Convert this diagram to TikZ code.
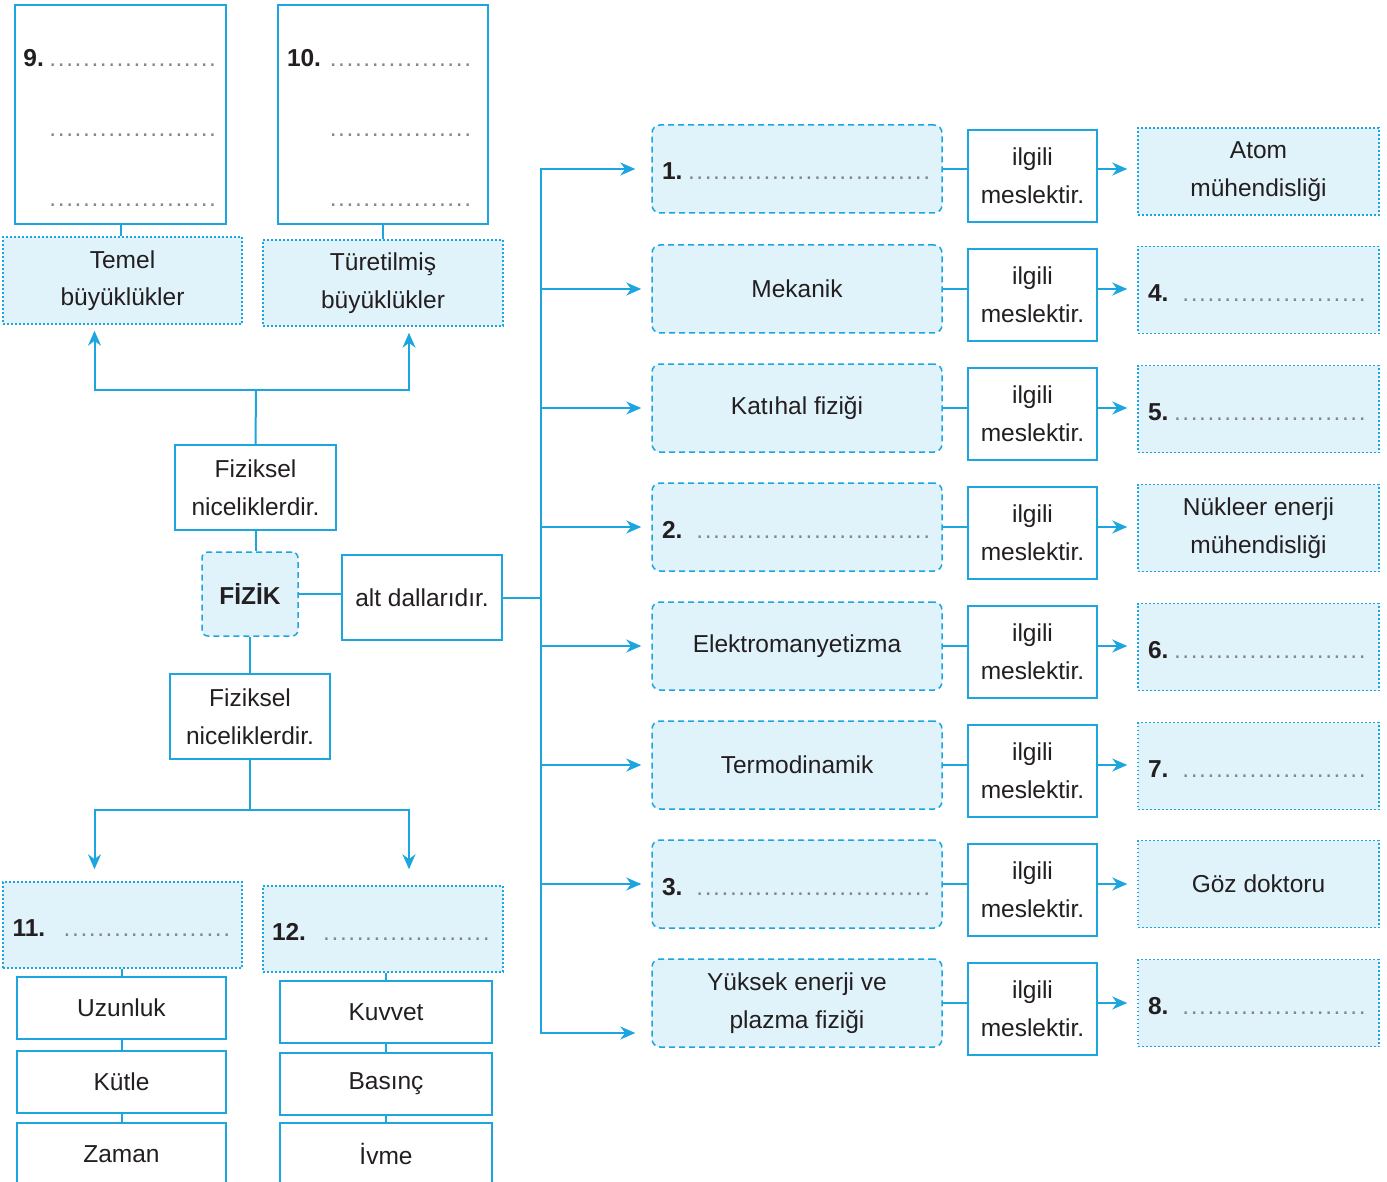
\documentclass[tikz,border=0pt]{standalone}
\usepackage{fontspec}
\setmainfont{Liberation Sans}
\usepackage{tikz}
\usetikzlibrary{arrows.meta}

\definecolor{cyanline}{RGB}{29,165,224}
\definecolor{paleblue}{RGB}{224,242,250}
\definecolor{ink}{RGB}{35,31,32}
\definecolor{dotgray}{RGB}{135,135,135}
\newcommand{\dotsline}{{\color{dotgray}\leaders\hbox to 4.2pt{\hss.\hss}\hskip 0pt plus 1filll}\kern0pt}

\begin{document}
\begin{tikzpicture}[x=0.5pt, y=-0.5pt, every node/.style={font=\fontsize{12.25}{18.8}\selectfont, text=ink, align=center, inner sep=0pt}, plainbox/.style={draw=cyanline,fill=white,line width=0.75pt}, branchbox/.style={draw=cyanline,fill=paleblue,line width=0.75pt,dash pattern=on 3pt off 2pt,rounded corners=4pt,minimum width=145pt,minimum height=44pt}, jobbox/.style={plainbox,minimum width=64.5pt,minimum height=46pt}, resbox/.style={draw=cyanline,fill=paleblue,line width=0.75pt,dash pattern=on 0.8pt off 1.2pt,minimum width=120.5pt,minimum height=43.5pt}, blankbox/.style={align=left,text width=#1,inner xsep=5pt,text height=11pt,text depth=0pt}, notebox/.style={plainbox,minimum height=109.5pt,align=left,font=\fontsize{12.25}{35}\selectfont,text height=10pt,text depth=58pt}, conn/.style={draw=cyanline,line width=1pt}, arr/.style={conn,-{Stealth[length=7.5pt,width=6.5pt]}}]
\useasboundingbox (0,0) rectangle (1387,1182);

% left column, upper half
\node[notebox,minimum width=105.5pt,text width=97pt] (box9) at (120.5,114.5) {\textbf{9.}\dotsline\\\phantom{\textbf{9.}}\dotsline\\\phantom{\textbf{9.}}\dotsline};
\node[notebox,minimum width=105pt,text width=96pt] (box10) at (383,114.5) {\textbf{10.}\dotsline\\\phantom{\textbf{10.}}\dotsline\\\phantom{\textbf{10.}}\dotsline};
\node[resbox,minimum width=119.5pt] (temel) at (122.5,280.5) {Temel\\büyüklükler};
\node[resbox,minimum width=120pt,minimum height=43pt] (turet) at (383,283) {Türetilmiş\\büyüklükler};
\node[plainbox,minimum width=80.5pt,minimum height=42.5pt] (fiz1) at (255.5,487.5) {Fiziksel\\niceliklerdir.};
\node[branchbox,minimum width=48pt,minimum height=42pt,rounded corners=3pt] (fizik) at (250,594) {\textbf{FİZİK}};
\node[plainbox,minimum width=80pt,minimum height=42.5pt] (alt) at (422,597.5) {alt dallarıdır.};

% left column, lower half
\node[plainbox,minimum width=80pt,minimum height=42.5pt] (fiz2) at (250,716.5) {Fiziksel\\niceliklerdir.};
\node[resbox,minimum width=119.5pt,minimum height=43pt,blankbox=110pt,inner xsep=4.5pt] (b11) at (122.5,925) {\textbf{11.}\hspace{6pt}\dotsline};
\node[resbox,minimum width=120pt,minimum height=43pt,blankbox=111pt,inner xsep=4.5pt] (b12) at (383,929) {\textbf{12.}\hspace{6pt}\dotsline};
\node[plainbox,minimum width=104.5pt,minimum height=31pt] (uz) at (121.5,1008) {Uzunluk};
\node[plainbox,minimum width=104.5pt,minimum height=31pt] (kut) at (121.5,1082) {Kütle};
\node[plainbox,minimum width=104.5pt,minimum height=31pt] (zam) at (121.5,1154) {Zaman};
\node[plainbox,minimum width=106pt,minimum height=31pt] (kuv) at (386,1012) {Kuvvet};
\node[plainbox,minimum width=106pt,minimum height=31pt] (bas) at (386,1084) {Basınç};
\node[plainbox,minimum width=106pt,minimum height=31pt] (ivm) at (386,1154) {İvme};

% branches
\node[branchbox,blankbox=135pt] (b1) at (797,169) {\textbf{1.}\hspace{1pt}\dotsline};
\node[branchbox] (b2) at (797,289) {Mekanik};
\node[branchbox] (b3) at (797,408) {Katıhal fiziği};
\node[branchbox,blankbox=135pt] (b4) at (797,527) {\textbf{2.}\hspace{4pt}\dotsline};
\node[branchbox] (b5) at (797,646) {Elektromanyetizma};
\node[branchbox] (b6) at (797,765) {Termodinamik};
\node[branchbox,blankbox=135pt] (b7) at (797,884) {\textbf{3.}\hspace{4pt}\dotsline};
\node[branchbox] (b8) at (797,1003) {Yüksek enerji ve\\plazma fiziği};

\node[jobbox] (j1) at (1032.5,176) {ilgili\\meslektir.};
\node[jobbox] (j2) at (1032.5,295) {ilgili\\meslektir.};
\node[jobbox] (j3) at (1032.5,414) {ilgili\\meslektir.};
\node[jobbox] (j4) at (1032.5,533) {ilgili\\meslektir.};
\node[jobbox] (j5) at (1032.5,652) {ilgili\\meslektir.};
\node[jobbox] (j6) at (1032.5,771) {ilgili\\meslektir.};
\node[jobbox] (j7) at (1032.5,890) {ilgili\\meslektir.};
\node[jobbox] (j8) at (1032.5,1009) {ilgili\\meslektir.};

\node[resbox] (r1) at (1258.5,171.5) {Atom\\mühendisliği};
\node[resbox,blankbox=110.5pt] (r2) at (1258.5,290) {\textbf{4.}\hspace{6pt}\dotsline};
\node[resbox,blankbox=110.5pt] (r3) at (1258.5,409) {\textbf{5.}\hspace{1pt}\dotsline};
\node[resbox] (r4) at (1258.5,528) {Nükleer enerji\\mühendisliği};
\node[resbox,blankbox=110.5pt] (r5) at (1258.5,647) {\textbf{6.}\hspace{1pt}\dotsline};
\node[resbox,blankbox=110.5pt] (r6) at (1258.5,766) {\textbf{7.}\hspace{6pt}\dotsline};
\node[resbox] (r7) at (1258.5,884) {Göz doktoru};
\node[resbox,blankbox=110.5pt] (r8) at (1258.5,1003) {\textbf{8.}\hspace{6pt}\dotsline};

% connectors, left
\coordinate (upfork) at (256,390);
\coordinate (downfork) at (250,810);
\draw[conn] (box9.south) -- (box9.south |- temel.north); \draw[conn] (box10.south) -- (box10.south |- turet.north);
\draw[conn] (fiz1.north) -- (upfork); \draw[arr,shorten >=3pt] (upfork) -| ([xshift=-14pt]temel.south); \draw[arr,shorten >=3pt] (upfork) -| ([xshift=13pt]turet.south);
\draw[conn] (fiz1.south) -- (fiz1.south |- fizik.north); \draw[conn] (fizik.east) -- (fizik.east -| alt.west);
\draw[conn] (fizik.south) -- (fiz2.north); \draw[conn] (fiz2.south) -- (downfork);
\draw[arr,shorten >=6pt] (downfork) -| ([xshift=-14pt]b11.north); \draw[arr,shorten >=8pt] (downfork) -| ([xshift=13pt]b12.north);
\draw[conn] (uz.north |- b11.south) -- (uz.north); \draw[conn] (uz) -- (kut); \draw[conn] (kut) -- (zam);
\draw[conn] (kuv.north |- b12.south) -- (kuv.north); \draw[conn] (kuv) -- (bas); \draw[conn] (bas) -- (ivm);

% connectors, right
\coordinate (trunk) at (541,594);
\draw[conn] (alt.east) -- (alt.east -| trunk);
\draw[arr,shorten >=8pt] (trunk) |- (b1.west); \draw[arr,shorten >=8pt] (trunk) |- ([yshift=-15pt]b8.west);
\draw[arr,shorten >=5pt] (trunk |- b2.west) -- (b2.west); \draw[arr,shorten >=5pt] (trunk |- b3.west) -- (b3.west);
\draw[arr,shorten >=5pt] (trunk |- b4.west) -- (b4.west); \draw[arr,shorten >=5pt] (trunk |- b5.west) -- (b5.west);
\draw[arr,shorten >=5pt] (trunk |- b6.west) -- (b6.west); \draw[arr,shorten >=5pt] (trunk |- b7.west) -- (b7.west);
\draw[conn] (b1.east) -- (b1.east -| j1.west); \draw[arr,shorten >=5pt] (j1.east |- b1) -- (r1.west |- b1);
\draw[conn] (b2.east) -- (b2.east -| j2.west); \draw[arr,shorten >=5pt] (j2.east |- b2) -- (r2.west |- b2);
\draw[conn] (b3.east) -- (b3.east -| j3.west); \draw[arr,shorten >=5pt] (j3.east |- b3) -- (r3.west |- b3);
\draw[conn] (b4.east) -- (b4.east -| j4.west); \draw[arr,shorten >=5pt] (j4.east |- b4) -- (r4.west |- b4);
\draw[conn] (b5.east) -- (b5.east -| j5.west); \draw[arr,shorten >=5pt] (j5.east |- b5) -- (r5.west |- b5);
\draw[conn] (b6.east) -- (b6.east -| j6.west); \draw[arr,shorten >=5pt] (j6.east |- b6) -- (r6.west |- b6);
\draw[conn] (b7.east) -- (b7.east -| j7.west); \draw[arr,shorten >=5pt] (j7.east |- b7) -- (r7.west |- b7);
\draw[conn] (b8.east) -- (b8.east -| j8.west); \draw[arr,shorten >=5pt] (j8.east |- b8) -- (r8.west |- b8);
\end{tikzpicture}
\end{document}
